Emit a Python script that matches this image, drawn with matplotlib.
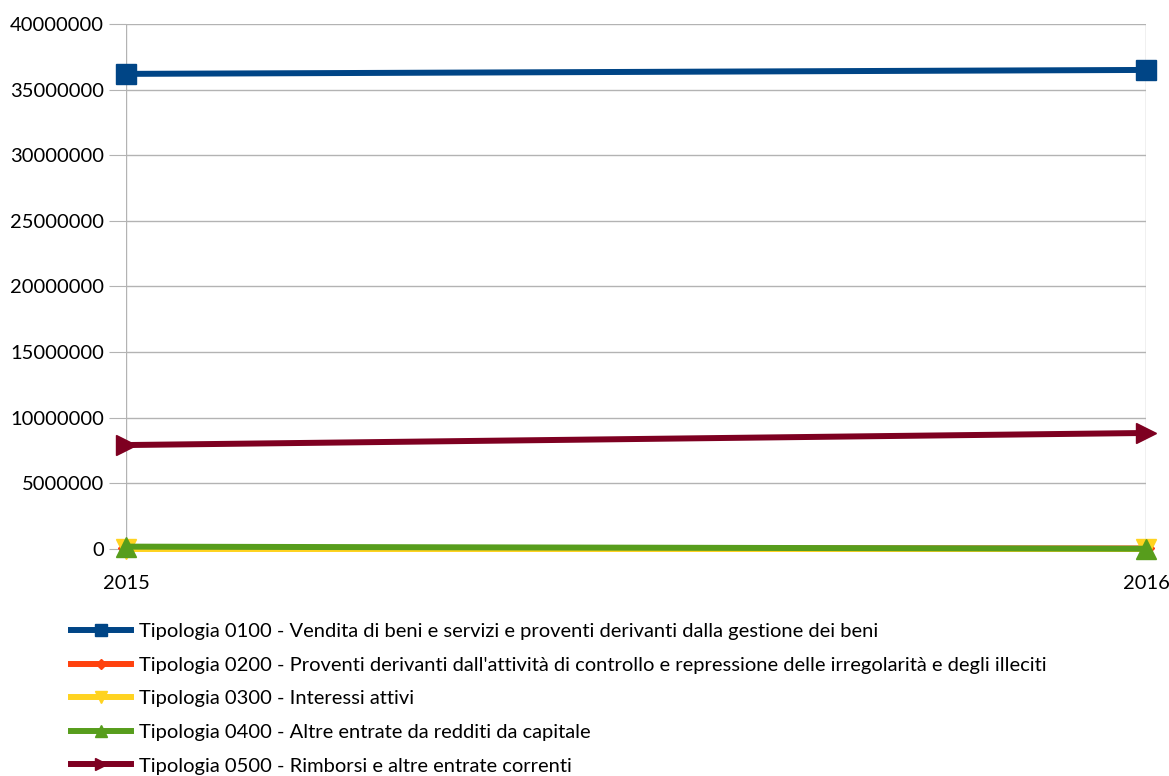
import matplotlib.pyplot as plt

plt.rcParams['font.family'] = ['Lato', 'DejaVu Sans']

# Values per year (euro)
years = [2015, 2016]
labels = [
    "Tipologia 0100 - Vendita di beni e servizi e proventi derivanti dalla gestione dei beni",
    "Tipologia 0200 - Proventi derivanti dall'attività di controllo e repressione delle irregolarità e degli illeciti",
    "Tipologia 0300 - Interessi attivi",
    "Tipologia 0400 - Altre entrate da redditi da capitale",
    "Tipologia 0500 - Rimborsi e altre entrate correnti",
]
t0100 = [36200000, 36500000]
t0200 = [60000, 40000]
t0300 = [5000, 5000]
t0400 = [180000, 20000]
t0500 = [7920000, 8840000]

series = [t0100, t0200, t0300, t0400, t0500]
colors = ["#004586", "#ff420e", "#ffd320", "#579d1c", "#7e0021"]
markers = ["s", "D", "v", "^", ">"]
msizes = [14, 8, 14, 14, 15]

fig = plt.figure(figsize=(11.69, 7.76), dpi=100)
ax = fig.add_axes([126 / 1169, (776 - 549) / 776, (1146 - 126) / 1169, 525 / 776])

for vals, lab, c, m, ms in zip(series, labels, colors, markers, msizes):
    ax.plot(years, vals, color=c, lw=4.3, marker=m, markersize=ms,
            label=lab, clip_on=False, zorder=3)

ax.set_xlim(2015, 2016)
ax.set_ylim(0, 40000000)
ax.set_yticks(range(0, 40000001, 5000000))
ax.set_yticklabels([str(v) for v in range(0, 40000001, 5000000)])
ax.set_xticks(years)
ax.set_xticklabels([str(y) for y in years])
ax.grid(True, color="#b3b3b3", lw=1)
ax.set_axisbelow(True)
for s in ax.spines.values():
    s.set_visible(False)
ax.tick_params(axis="y", length=12, color="#b3b3b3", labelsize=14.5, pad=4)
ax.tick_params(axis="x", length=0, labelsize=14.5, pad=19)

ax.legend(loc="upper left", bbox_to_anchor=(71 / 1169, 1 - 623 / 776),
          bbox_transform=fig.transFigure, frameon=False, fontsize=14.5,
          handlelength=3.0, handletextpad=0.4, labelspacing=0.82,
          markerscale=0.6, borderpad=0, borderaxespad=0)

fig.savefig("out.png", dpi=100)
